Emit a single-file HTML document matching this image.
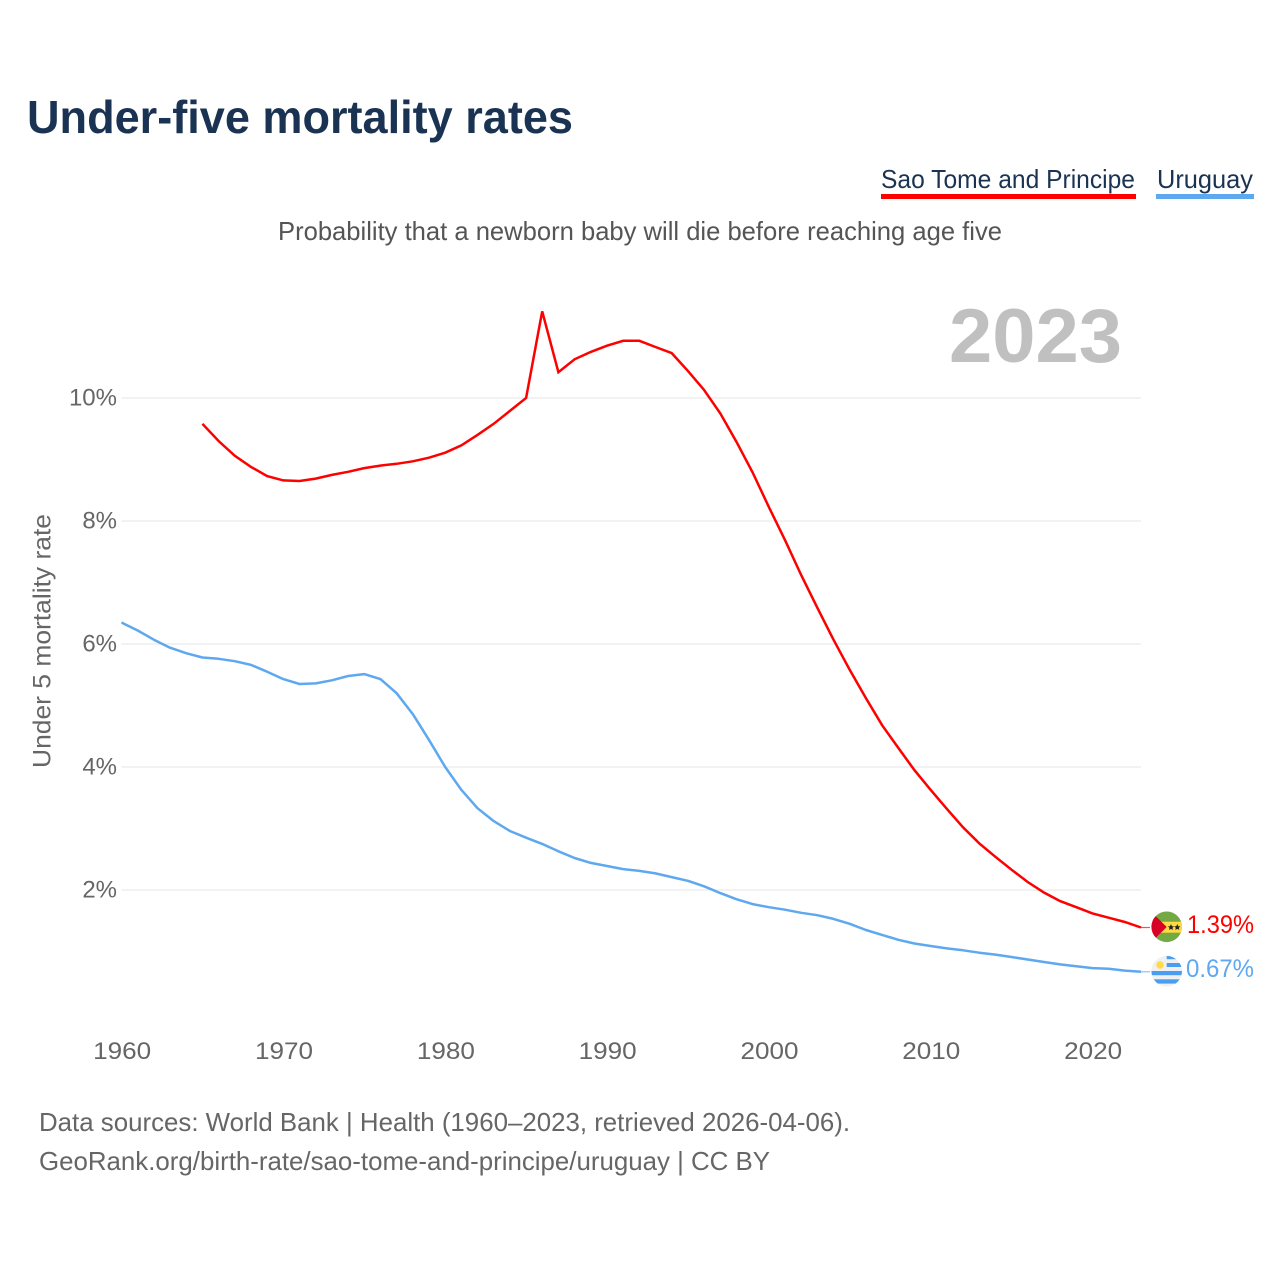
<!DOCTYPE html>
<html lang="en">
<head>
<meta charset="utf-8">
<title>Under-five mortality rates</title>
<style>
html,body{margin:0;padding:0;background:#fff}
svg{display:block}
text{font-family:"Liberation Sans",sans-serif}
</style>
</head>
<body>
<svg id="chart" xmlns="http://www.w3.org/2000/svg" width="1280" height="1280" viewBox="0 0 1280 1280">
  <defs>
    <clipPath id="flag-clip-st"><circle cx="1166.7" cy="926.8" r="15.3"/></clipPath>
    <clipPath id="flag-clip-uy"><circle cx="1166.7" cy="971.2" r="15.3"/></clipPath>
  </defs>
  <text x="27" y="133" font-size="46" font-weight="700" fill="#1a3353" textLength="546" lengthAdjust="spacingAndGlyphs">Under-five mortality rates</text>
  <g>
    <text x="881" y="188" font-size="26" fill="#1a3353" textLength="254" lengthAdjust="spacingAndGlyphs">Sao Tome and Principe</text>
    <rect x="881" y="194" width="255" height="5" fill="#ff0000"/>
  </g>
  <g>
    <text x="1157" y="188" font-size="26" fill="#1a3353" textLength="96" lengthAdjust="spacingAndGlyphs">Uruguay</text>
    <rect x="1156" y="194" width="98" height="5" fill="#5ea8f0"/>
  </g>
  <text x="278" y="240" font-size="26" fill="#555" textLength="724" lengthAdjust="spacingAndGlyphs">Probability that a newborn baby will die before reaching age five</text>
  <text x="949" y="362" font-size="76" font-weight="700" fill="#c0c0c0" textLength="173" lengthAdjust="spacingAndGlyphs">2023</text>
  <text transform="translate(50.5,768) rotate(-90)" font-size="25" fill="#666" textLength="254" lengthAdjust="spacingAndGlyphs">Under 5 mortality rate</text>
  <g id="grid"></g>
  <g id="yticks"></g>
  <g id="xticks"></g>
  <g id="series"></g>
  <g clip-path="url(#flag-clip-st)">
    <rect x="1151" y="911" width="32" height="32" fill="#73a843"/>
    <rect x="1151" y="921.7" width="32" height="11" fill="#ffda44"/>
    <polygon points="1150.5,911 1166.7,927 1150.5,943" fill="#d80027"/>
    <polygon points="1171,924 1172,926.2 1174.2,926.4 1172.5,927.8 1173,930 1171,928.9 1169,930 1169.5,927.8 1167.8,926.4 1170,926.2" fill="#222"/>
    <polygon points="1177.3,924 1178.3,926.2 1180.5,926.4 1178.8,927.8 1179.3,930 1177.3,928.9 1175.3,930 1175.8,927.8 1174.1,926.4 1176.3,926.2" fill="#222"/>
  </g>
  <g clip-path="url(#flag-clip-uy)">
    <rect x="1151" y="955" width="32" height="33" fill="#eff0f1"/>
    <rect x="1166.7" y="955.8" width="16" height="3.4" fill="#4a9df0"/>
    <rect x="1166.7" y="963" width="16" height="4" fill="#4a9df0"/>
    <rect x="1151" y="971" width="32" height="4.2" fill="#4a9df0"/>
    <rect x="1151" y="979.3" width="32" height="4.3" fill="#4a9df0"/>
    <circle cx="1160" cy="965" r="3.7" fill="#ffda44"/>
  </g>
  <text x="1187" y="933" font-size="25" fill="#ff0000" textLength="67" lengthAdjust="spacingAndGlyphs">1.39%</text>
  <text x="1186" y="977" font-size="25" fill="#5ea8f0" textLength="68" lengthAdjust="spacingAndGlyphs">0.67%</text>
  <text x="39" y="1131" font-size="26" fill="#666" textLength="811" lengthAdjust="spacingAndGlyphs">Data sources: World Bank | Health (1960–2023, retrieved 2026-04-06).</text>
  <text x="39" y="1170" font-size="26" fill="#666" textLength="731" lengthAdjust="spacingAndGlyphs">GeoRank.org/birth-rate/sao-tome-and-principe/uruguay | CC BY</text>
</svg>
<script>
const firstYear = 1960;
const lastYear = 2023;
const yTickValues = [2, 4, 6, 8, 10];
const yTickLabels = ["2%", "4%", "6%", "8%", "10%"];
const xTickValues = [1960, 1970, 1980, 1990, 2000, 2010, 2020];
const xTickLabels = ["1960", "1970", "1980", "1990", "2000", "2010", "2020"];
const saoTomeStartYear = 1965;
const saoTomeValues = [9.58,9.30,9.06,8.88,8.73,8.66,8.65,8.69,8.75,8.80,8.86,8.90,8.93,8.97,9.03,9.11,9.23,9.40,9.58,9.79,10.0,11.41,10.42,10.63,10.75,10.85,10.93,10.93,10.83,10.73,10.44,10.13,9.75,9.29,8.79,8.23,7.69,7.12,6.59,6.07,5.58,5.12,4.68,4.31,3.95,3.63,3.32,3.02,2.76,2.54,2.33,2.13,1.96,1.82,1.72,1.62,1.55,1.48,1.39];
const uruguayStartYear = 1960;
const uruguayValues = [6.35,6.22,6.07,5.94,5.85,5.78,5.76,5.72,5.66,5.55,5.43,5.35,5.36,5.41,5.48,5.51,5.43,5.20,4.86,4.44,4.00,3.63,3.33,3.12,2.96,2.85,2.75,2.63,2.52,2.44,2.39,2.34,2.31,2.27,2.21,2.15,2.06,1.95,1.85,1.77,1.72,1.68,1.63,1.59,1.53,1.45,1.35,1.27,1.19,1.13,1.09,1.05,1.02,0.98,0.95,0.91,0.87,0.83,0.79,0.76,0.73,0.72,0.69,0.67];

const NS = "http://www.w3.org/2000/svg";
const plotLeft = 121.5;
const plotRight = 1141;
const xScale = function (year) {
  return plotLeft + (year - firstYear) * (plotRight - plotLeft) / (lastYear - firstYear);
};
const yScale = function (value) {
  return 1013 - value * 61.5;
};
const make = function (tag, parentId, attrs) {
  const el = document.createElementNS(NS, tag);
  Object.keys(attrs).forEach(function (k) { el.setAttribute(k, attrs[k]); });
  document.getElementById(parentId).appendChild(el);
  return el;
};

yTickValues.forEach(function (v, i) {
  const line = make("line", "grid", {x1: plotLeft, x2: plotRight, y1: yScale(v), y2: yScale(v), stroke: "#e9e9e9", "stroke-width": 1.3});
  
  
  const label = make("text", "yticks", {x: 117, y: yScale(v) + 7.5, "text-anchor": "end", "font-size": 24, fill: "#666"});
  
  
  label.textContent = yTickLabels[i];
});

xTickValues.forEach(function (v, i) {
  const label = make("text", "xticks", {x: xScale(v) - 28.3, y: 1059, "font-size": 24.5, fill: "#666", textLength: 58, lengthAdjust: "spacingAndGlyphs"});
  
  
  label.textContent = xTickLabels[i];
});

const buildPoints = function (startYear, values) {
  return values.map(function (v, i) {
    return xScale(startYear + i).toFixed(1) + "," + yScale(v).toFixed(1);
  }).join(" ");
};

const lastRed = saoTomeValues[saoTomeValues.length - 1];
const lastBlue = uruguayValues[uruguayValues.length - 1];
const redLeader = make("line", "series", {x1: plotRight, x2: 1150, y1: yScale(lastRed), y2: yScale(lastRed), stroke: "#ff0000", "stroke-width": 1.2, "stroke-opacity": 0.7});


const blueLeader = make("line", "series", {x1: plotRight, x2: 1150, y1: yScale(lastBlue), y2: yScale(lastBlue), stroke: "#5ea8f0", "stroke-width": 1.2, "stroke-opacity": 0.7});



const redLine = make("polyline", "series", {points: buildPoints(saoTomeStartYear, saoTomeValues), fill: "none", stroke: "#ff0000", "stroke-width": 2.5, "stroke-linejoin": "miter"});



const blueLine = make("polyline", "series", {points: buildPoints(uruguayStartYear, uruguayValues), fill: "none", stroke: "#5ea8f0", "stroke-width": 2.5, "stroke-linejoin": "round"});


</script>
</body>
</html>
